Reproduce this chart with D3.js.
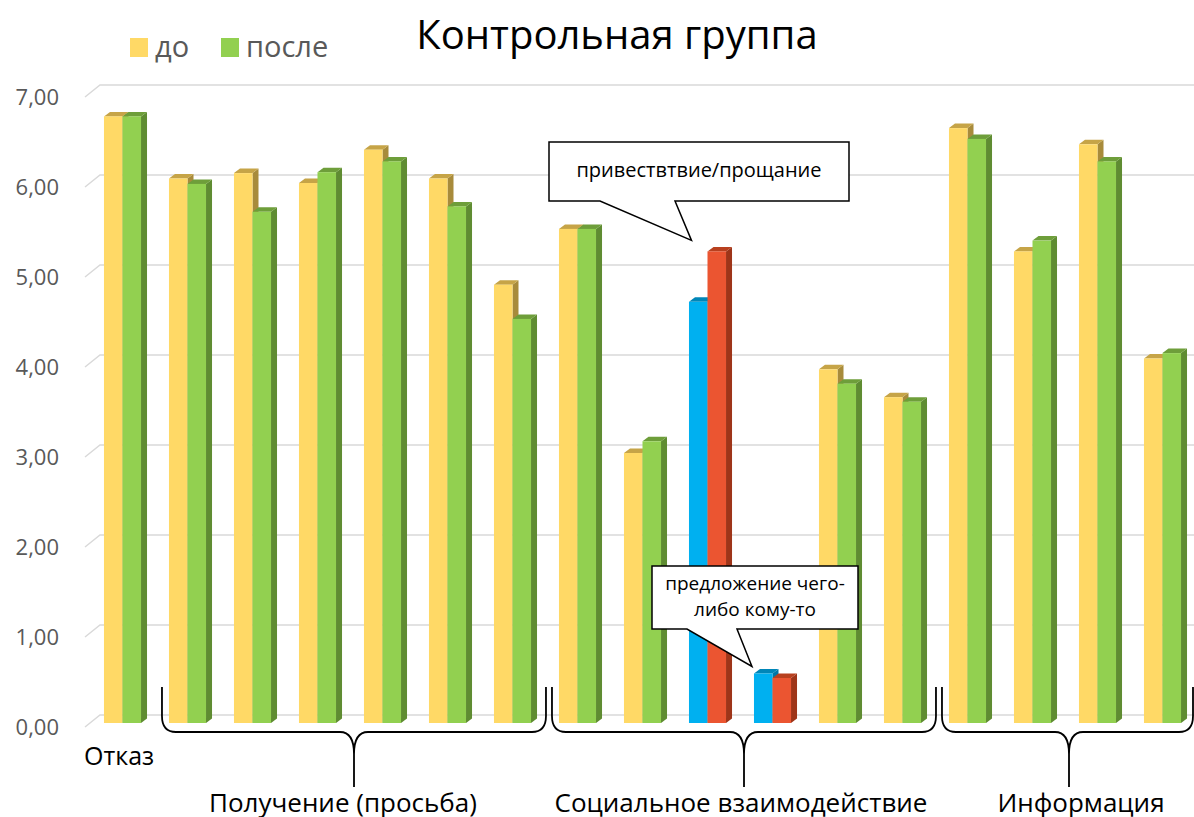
<!DOCTYPE html>
<html><head><meta charset="utf-8">
<script src="https://cdn.jsdelivr.net/npm/d3@7"></script>
<style>body{margin:0;background:#fff}svg{display:block}</style>
</head><body>
<script>
const categories = ["1","2","3","4","5","6","7","8","9","10","11","12","13","14","15","16","17"];
const seriesNames = ["до","после"];
const before = [6.74, 6.05, 6.11, 6.00, 6.37, 6.05, 4.87, 5.49, 3.00, 4.68, 0.55, 3.93, 3.62, 6.61, 5.24, 6.43, 4.05];
const after  = [6.74, 5.99, 5.68, 6.12, 6.24, 5.74, 4.49, 5.49, 3.13, 5.24, 0.50, 3.77, 3.57, 6.49, 5.36, 6.24, 4.11];
const highlighted = [9, 10];
const yTicks = [0,1,2,3,4,5,6,7];
const groups = [
  {name:"Получение (просьба)", from:1, to:6, shift:-11},
  {name:"Социальное взаимодействие", from:7, to:12, shift:-3},
  {name:"Информация", from:13, to:16, shift:12}
];
const callouts = [
  {cat:9, series:1, lines:["привествтвие/прощание"]},
  {cat:10, series:0, lines:["предложение чего-","либо кому-то"]}
];

const W=1194,H=817, FONT="'Open Sans', sans-serif";
const svg=d3.select("body").append("svg").attr("width",W).attr("height",H);
const x=d3.scaleBand().domain(categories).range([90,1195]).paddingInner(0.43).paddingOuter(0.215);
const xs=d3.scaleBand().domain(seriesNames).range([0,x.bandwidth()]);
const y=d3.scaleLinear().domain([0,7]).range([723,93]);
const DX=6, DY=4.5;

// gridlines with perspective
const g=svg.append("g");
yTicks.forEach(t=>{
  const yy=y(t);
  g.append("path").attr("d",`M85,${yy+4}L100,${yy-8}L${W},${yy-8}`)
    .attr("fill","none").attr("stroke","#d9d9d9").attr("stroke-width",1.5);
  g.append("text").attr("x",59).attr("y",yy+6).attr("text-anchor","end")
    .attr("dominant-baseline","middle").attr("font-family",FONT).attr("font-size",22)
    .attr("fill","#595959").text(d3.format(".2f")(t).replace(".",","));
});

const pal = {
  normal:[{f:"#FFD966",t:"#C6A447",s:"#A88B3B"},{f:"#92D050",t:"#6E9E3A",s:"#5F8C32"}],
  hi:[{f:"#00B0F0",t:"#0086B8",s:"#0077A6"},{f:"#EB5531",t:"#B8401F",s:"#9E3519"}]
};
const bars=svg.append("g");
categories.forEach((c,i)=>{
  [before[i],after[i]].forEach((v,si)=>{
    const col=(highlighted.includes(i)?pal.hi:pal.normal)[si];
    const x0=x(c)+xs(seriesNames[si]), w=xs.bandwidth(), y0=y(v), yb=y(0);
    bars.append("path").attr("d",`M${x0+w},${y0}L${x0+w+DX},${y0-DY}L${x0+w+DX},${yb-DY}L${x0+w},${yb}Z`).attr("fill",col.s);
    bars.append("path").attr("d",`M${x0},${y0}L${x0+DX},${y0-DY}L${x0+w+DX},${y0-DY}L${x0+w},${y0}Z`).attr("fill",col.t);
    bars.append("rect").attr("x",x0).attr("y",y0).attr("width",w).attr("height",yb-y0).attr("fill",col.f);
  });
});

// legend
const lg=svg.append("g");
[["до",130,"#FFD966"],["после",221,"#92D050"]].forEach(([n,lx,cc])=>{
  lg.append("rect").attr("x",lx).attr("y",38).attr("width",18).attr("height",19).attr("fill",cc);
  lg.append("text").attr("x",lx+25).attr("y",57).attr("font-family",FONT).attr("font-size",29)
    .attr("fill","#595959").text(n);
});
svg.append("text").attr("x",617).attr("y",49).attr("text-anchor","middle").attr("font-family",FONT)
  .attr("font-size",40).attr("fill","#000").text("Контрольная группа");

// category labels & braces
svg.append("text").attr("x",84).attr("y",765).attr("font-family",FONT).attr("font-size",25).text("Отказ");
groups.forEach(gr=>{
  const x0=x(categories[gr.from])-7, x1=Math.min(x(categories[gr.to])+x.step()-13, W-1);
  const xc=(x(categories[gr.from])+x(categories[gr.to])+x.bandwidth())/2+4;
  const yT=687, yH=732, yTip=787;
  const d=`M${x0},${yT}L${x0},${yH-16}Q${x0},${yH} ${x0+14},${yH}L${xc-14},${yH}Q${xc},${yH} ${xc},${yH+22}L${xc},${yTip}`+
          `M${xc},${yH+22}Q${xc},${yH} ${xc+14},${yH}L${x1-14},${yH}Q${x1},${yH} ${x1},${yH-16}L${x1},${yT}`;
  svg.append("path").attr("d",d).attr("fill","none").attr("stroke","#000").attr("stroke-width",1.8);
  svg.append("text").attr("x",xc+gr.shift).attr("y",812).attr("text-anchor","middle").attr("font-family",FONT)
    .attr("font-size",26).text(gr.name);
});

// callouts
const boxes=[{x:549,y:142,w:300,h:59,px0:600,px1:675,dx:-16,dy:-11},{x:652,y:566,w:206,h:63,px0:687,px1:737,dx:-2,dy:-7}];
callouts.forEach((co,k)=>{
  const b=boxes[k];
  const v=co.series===0?before[co.cat]:after[co.cat];
  const tx=x(categories[co.cat])+xs(seriesNames[co.series])+b.dx, ty=y(v)+b.dy;
  const d=`M${b.x},${b.y}L${b.x+b.w},${b.y}L${b.x+b.w},${b.y+b.h}L${b.px1},${b.y+b.h}L${tx},${ty}L${b.px0},${b.y+b.h}L${b.x},${b.y+b.h}Z`;
  svg.append("path").attr("d",d).attr("fill","#fff").attr("stroke","#000").attr("stroke-width",1.5);
  const n=co.lines.length;
  co.lines.forEach((l,li)=>{
    svg.append("text").attr("x",b.x+b.w/2).attr("y",b.y+b.h/2+(li-(n-1)/2)*26).attr("text-anchor","middle")
      .attr("dominant-baseline","middle").attr("font-family",FONT).attr("font-size",k===0?20:19).text(l);
  });
});
</script>
</body></html>
